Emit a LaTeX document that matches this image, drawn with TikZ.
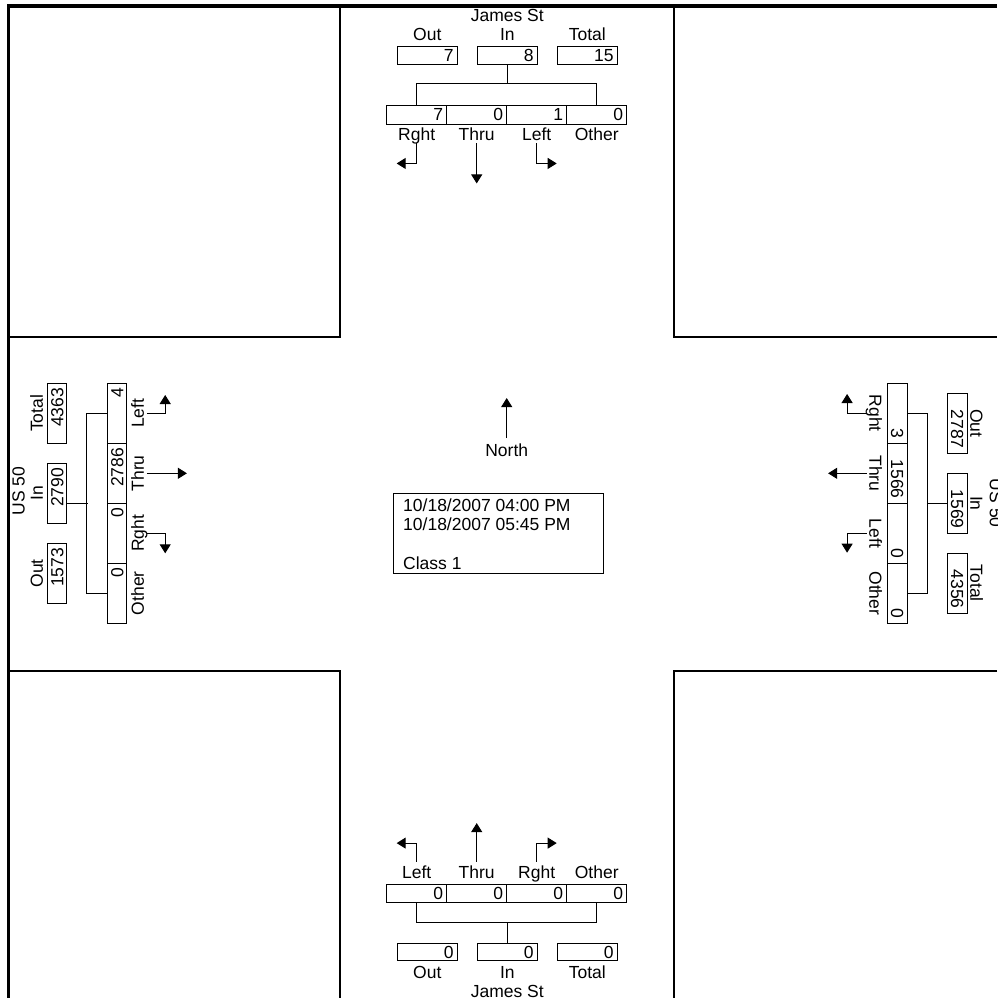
\documentclass[tikz,border=0pt]{standalone}
\usepackage{fontspec}
\setmainfont{Liberation Sans}
\usetikzlibrary{arrows.meta,calc}
\newcommand\fs{\fontsize{17.5}{19.5}\selectfont}
\begin{document}
\begin{tikzpicture}[x=1pt,y=-1pt,
 lbl/.style={font=\fs, inner sep=0pt, text height=12.5pt, text depth=0pt},
 num/.style={lbl, anchor=east},
 hbox/.style={draw, line width=1pt, inner sep=0pt, minimum width=60pt, minimum height=#1},
 vbox/.style={draw, line width=1pt, inner sep=0pt, minimum height=60pt, minimum width=#1},
 conn/.style={line width=1pt},
 arr/.style={line width=1pt, -{Triangle[length=9pt,width=11pt]}},
 blk/.style={line width=1.2pt},
 thickframe/.style={line width=3.5pt}
]
\useasboundingbox (0,0) rectangle (997,998);
% frame and blocks
\draw[thickframe] (8.5,998) -- (8.5,6) -- (997,6);
\draw[blk] (340,6) -- (340,337) -- (8.5,337);
\draw[blk] (674,6) -- (674,337) -- (997,337);
\draw[blk] (8.5,671) -- (340,671) -- (340,998);
\draw[blk] (997,671) -- (674,671) -- (674,998);

% ---------- North approach (James St, top) ----------
\node[lbl] (NS) at (507.3,15) {James St};
\node[lbl] (NoutL) at (427.3,34.7) {Out};
\node[lbl] (NinL) at (507.3,34.7) {In};
\node[lbl] (NtotL) at (587.3,34.7) {Total};
\node[hbox=17.6pt] (Nout) at (427.3,55.5) {};
\node[hbox=17.6pt] (Nin) at (507.3,55.5) {};
\node[hbox=17.6pt] (Ntot) at (587.3,55.5) {};
\node[num] (NoutV) at ($(Nout.east)+(-4,0)$) {7};
\node[num] (NinV) at ($(Nin.east)+(-4,0)$) {8};
\node[num] (NtotV) at ($(Ntot.east)+(-4,0)$) {15};
\node[hbox=19.3pt] (NR) at (416.7,114.7) {};
\node[hbox=19.3pt] (NT) at (476.7,114.7) {};
\node[hbox=19.3pt] (NL) at (536.7,114.7) {};
\node[hbox=19.3pt] (NO) at (596.7,114.7) {};
\node[num] (NRV) at ($(NR.east)+(-4,0)$) {7};
\node[num] (NTV) at ($(NT.east)+(-4,0)$) {0};
\node[num] (NLV) at ($(NL.east)+(-4,0)$) {1};
\node[num] (NOV) at ($(NO.east)+(-4,0)$) {0};
\draw[conn] (Nin.south) -- ++(0,19) coordinate (Nj);
\draw[conn] (NR.north) |- (Nj) -| (NO.north);
\node[lbl] (NRl) at (416.7,134) {Rght};
\node[lbl] (NTl) at (476.7,134) {Thru};
\node[lbl] (NLl) at (536.7,134) {Left};
\node[lbl] (NOl) at (596.7,134) {Other};
\draw[arr] ($(NRl.south)+(0,3)$) |- ++(-20,20);
\draw[arr] ($(NTl.south)+(0,3)$) -- ++(0,40);
\draw[arr] ($(NLl.south)+(0,3)$) |- ++(20,20);

% ---------- South approach (James St, bottom) ----------
\node[lbl] (SLl) at (416.7,872.7) {Left};
\node[lbl] (STl) at (476.7,872.7) {Thru};
\node[lbl] (SRl) at (536.7,872.7) {Rght};
\node[lbl] (SOl) at (596.7,872.7) {Other};
\draw[arr] ($(SLl.north)+(0,-4.75)$) |- ++(-20,-18.4);
\draw[arr] ($(STl.north)+(0,-4.75)$) -- ++(0,-38.4);
\draw[arr] ($(SRl.north)+(0,-4.75)$) |- ++(20,-18.4);
\node[hbox=18.3pt] (SL) at (416.7,893.2) {};
\node[hbox=18.3pt] (ST) at (476.7,893.2) {};
\node[hbox=18.3pt] (SR) at (536.7,893.2) {};
\node[hbox=18.3pt] (SO) at (596.7,893.2) {};
\node[num] (SLV) at ($(SL.east)+(-4,0)$) {0};
\node[num] (STV) at ($(ST.east)+(-4,0)$) {0};
\node[num] (SRV) at ($(SR.east)+(-4,0)$) {0};
\node[num] (SOV) at ($(SO.east)+(-4,0)$) {0};
\node[hbox=17.4pt] (Sout) at (427.3,952) {};
\node[hbox=17.4pt] (Sin) at (507.3,952) {};
\node[hbox=17.4pt] (Stot) at (587.3,952) {};
\node[num] (SoutV) at ($(Sout.east)+(-4,0)$) {0};
\node[num] (SinV) at ($(Sin.east)+(-4,0)$) {0};
\node[num] (StotV) at ($(Stot.east)+(-4,0)$) {0};
\draw[conn] (Sin.north) -- ++(0,-20.6) coordinate (Sj);
\draw[conn] (SL.south) |- (Sj) -| (SO.south);
\node[lbl] (SoutL) at (427.3,972.3) {Out};
\node[lbl] (SinL) at (507.3,972.3) {In};
\node[lbl] (StotL) at (587.3,972.3) {Total};
\node[lbl] (SS) at (507.3,991.5) {James St};

% ---------- West approach (US 50, left) ----------
\node[lbl, rotate=90] (WS) at (18.3,491) {US 50};
\node[lbl, rotate=90] (WtotL) at (36.7,413.3) {Total};
\node[lbl, rotate=90] (WinL) at (36.7,493.3) {In};
\node[lbl, rotate=90] (WoutL) at (36.7,573.3) {Out};
\node[vbox=19pt] (Wtot) at (57.2,413.3) {};
\node[vbox=19pt] (Win) at (57.2,493.3) {};
\node[vbox=19pt] (Wout) at (57.2,573.3) {};
\node[num, rotate=90] (WtotV) at ($(Wtot.north)+(0,5)$) {4363};
\node[num, rotate=90] (WinV) at ($(Win.north)+(0,5)$) {2790};
\node[num, rotate=90] (WoutV) at ($(Wout.north)+(0,5)$) {1573};
\node[vbox=19.4pt] (WL) at (117,413.3) {};
\node[vbox=19.4pt] (WT) at (117,473.3) {};
\node[vbox=19.4pt] (WR) at (117,533.3) {};
\node[vbox=19.4pt] (WO) at (117,593.3) {};
\node[num, rotate=90] (WLV) at ($(WL.north)+(0,5)$) {4};
\node[num, rotate=90] (WTV) at ($(WT.north)+(0,5)$) {2786};
\node[num, rotate=90] (WRV) at ($(WR.north)+(0,5)$) {0};
\node[num, rotate=90] (WOV) at ($(WO.north)+(0,5)$) {0};
\draw[conn] (WL.west) -- ++(-20,0) |- (WO.west);
\draw[conn] ($(Win.east)+(0,10)$) -- ++(20.6,0);
\node[lbl, rotate=90] (WLl) at (137.7,413.3) {Left};
\node[lbl, rotate=90] (WTl) at (137.7,473.3) {Thru};
\node[lbl, rotate=90] (WRl) at (137.7,533.3) {Rght};
\node[lbl, rotate=90] (WOl) at (137.7,593.3) {Other};
\draw[arr] ($(WLl.south)+(2.75,0)$) -| ++(18.3,-18.3);
\draw[arr] ($(WTl.south)+(2.75,0)$) -- ++(40,0);
\draw[arr] ($(WRl.south)+(2.75,0)$) -| ++(18.3,20);

% ---------- East approach (US 50, right) ----------
\node[vbox=20pt] (ER) at (897.3,413.3) {};
\node[vbox=20pt] (ET) at (897.3,473.3) {};
\node[vbox=20pt] (EL) at (897.3,533.3) {};
\node[vbox=20pt] (EO) at (897.3,593.3) {};
\node[num, rotate=-90] (ERV) at ($(ER.south)+(0,-5)$) {3};
\node[num, rotate=-90] (ETV) at ($(ET.south)+(0,-5)$) {1566};
\node[num, rotate=-90] (ELV) at ($(EL.south)+(0,-5)$) {0};
\node[num, rotate=-90] (EOV) at ($(EO.south)+(0,-5)$) {0};
\node[vbox=20pt] (Eout) at (957.3,423.3) {};
\node[vbox=20pt] (Ein) at (957.3,503.3) {};
\node[vbox=20pt] (Etot) at (957.3,583.3) {};
\node[num, rotate=-90] (EoutV) at ($(Eout.south)+(0,-5)$) {2787};
\node[num, rotate=-90] (EinV) at ($(Ein.south)+(0,-5)$) {1569};
\node[num, rotate=-90] (EtotV) at ($(Etot.south)+(0,-5)$) {4356};
\draw[conn] (ER.east) -- ++(20,0) |- (EO.east);
\draw[conn] (Ein.west) -- ++(-20,0);
\node[lbl, rotate=-90] (EoutL) at (976.7,423.3) {Out};
\node[lbl, rotate=-90] (EinL) at (976.7,503.3) {In};
\node[lbl, rotate=-90] (EtotL) at (976.7,583.3) {Total};
\node[lbl, rotate=-90] (ES) at (996,503.3) {US 50};
\node[lbl, rotate=-90] (ERl) at (875.7,413.3) {Rght};
\node[lbl, rotate=-90] (ETl) at (875.7,473.3) {Thru};
\node[lbl, rotate=-90] (ELl) at (875.7,533.3) {Left};
\node[lbl, rotate=-90] (EOl) at (875.7,593.3) {Other};
\draw[arr] ($(ERl.south)+(-2.75,0)$) -| ++(-19.4,-19.3);
\draw[arr] ($(ETl.south)+(-2.75,0)$) -- ++(-38.4,0);
\draw[arr] ($(ELl.south)+(-2.75,0)$) -| ++(-19.4,19.4);

% ---------- Centre ----------
\node[lbl] (north) at (506.7,450) {North};
\draw[arr] ($(north.north)+(0,-5.5)$) -- ++(0,-40);
\node[draw, line width=1pt, inner sep=0pt, minimum width=210pt, minimum height=80pt, anchor=north west] (info) at (392.7,493.3) {};
\node[font=\fs, inner sep=0pt, anchor=base west] (info1) at (403,511.25) {10/18/2007 04:00 PM};
\node[font=\fs, inner sep=0pt, anchor=base west] (info2) at (403,530.55) {10/18/2007 05:45 PM};
\node[font=\fs, inner sep=0pt, anchor=base west] (info4) at (403,569.55) {Class 1};
\end{tikzpicture}
\end{document}
